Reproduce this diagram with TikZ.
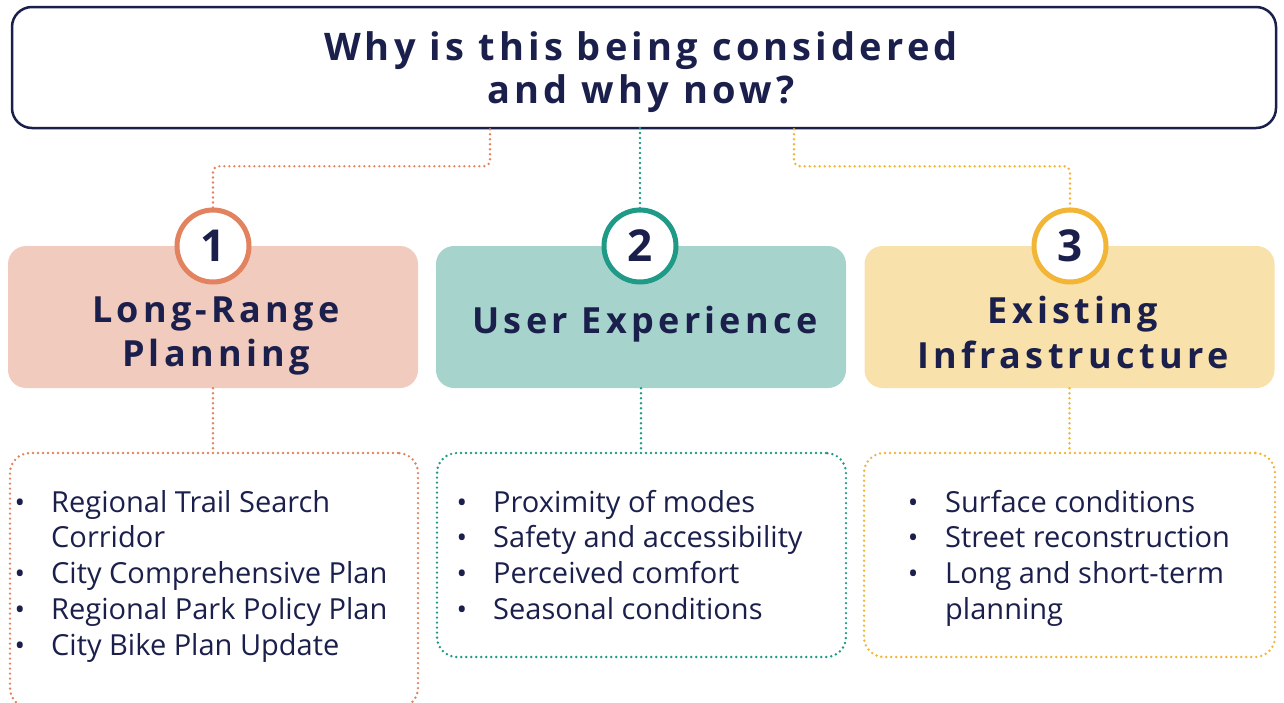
\documentclass[tikz,border=0pt]{standalone}
\usepackage{fontspec}
\setmainfont{Open Sans}
\newfontfamily\headfont[LetterSpace=12]{Open Sans}
\newfontfamily\titlefont[LetterSpace=11]{Open Sans}
\usetikzlibrary{calc}
\definecolor{navy}{HTML}{1B1F4B}
\definecolor{ora}{HTML}{E2825E}
\definecolor{orafill}{HTML}{F2CBBF}
\definecolor{tea}{HTML}{1F9A86}
\definecolor{teafill}{HTML}{A6D4CD}
\definecolor{yel}{HTML}{F2B535}
\definecolor{yelfill}{HTML}{F8E1AB}
\tikzset{
  dotline/.style={line width=2.7pt, dash pattern=on 0pt off 5pt, line cap=round},
  headbox/.style={rounded corners=18pt, minimum width=410pt, minimum height=142pt, inner sep=0pt},
  numcirc/.style={circle, fill=white, line width=5pt, minimum size=72pt, inner sep=0pt, text=navy, font=\bfseries\fontsize{44}{44}\selectfont},
  headtxt/.style={anchor=base, inner sep=0pt, text=navy, font=\headfont\bfseries\fontsize{36}{36}\selectfont},
  titletxt/.style={anchor=base, inner sep=0pt, text=navy, font=\titlefont\bfseries\fontsize{38}{38}\selectfont},
  listbox/.style={dotline, rounded corners=20pt, inner sep=0pt},
  itemtxt/.style={anchor=base west, inner sep=0pt, text=navy, font=\fontsize{29}{36}\selectfont},
  bul/.style={anchor=base, inner sep=0pt, text=navy, font=\fontsize{28}{28}\selectfont},
}
\begin{document}
\begin{tikzpicture}[x=1pt,y=-1pt]
\useasboundingbox (0,0) rectangle (1284,702);
\clip (0,0) rectangle (1284,702);
% top box
\node[draw=navy, line width=2.5pt, rounded corners=20pt, minimum width=1264pt, minimum height=121pt, inner sep=0pt] (q) at (644,67.5) {};
\node[titletxt] (t1) at (641,60) {Why is this being considered};
\node[titletxt] (t2) at (641,103) {and why now?};
% heading boxes
\node[headbox, fill=orafill] (b1) at (213,317) {};
\node[headbox, fill=teafill] (b2) at (641,317) {};
\node[headbox, fill=yelfill] (b3) at (1069.5,317) {};
\node[headtxt] (h1a) at (216,322) {Long-Range};
\node[headtxt] (h1b) at (216,366) {Planning};
\node[headtxt] (h2) at (645,333) {User Experience};
\node[headtxt] (h3a) at (1073,323) {Existing};
\node[headtxt] (h3b) at (1073,368) {Infrastructure};
% list boxes
\node[listbox, draw=ora, minimum width=408pt, minimum height=255pt] (l1) at (214,580.5) {};
\node[listbox, draw=tea, minimum width=409pt, minimum height=204pt] (l2) at (641.5,555) {};
\node[listbox, draw=yel, minimum width=411pt, minimum height=204pt] (l3) at (1069.5,555) {};
% connectors
\draw[dotline, draw=ora, rounded corners=6pt] ([xshift=-154pt]q.south) -- ++(0,37) -| (213,210);
\draw[dotline, draw=tea] (640,128) -- (640,210);
\draw[dotline, draw=yel, rounded corners=6pt] ([xshift=150pt]q.south) -- ++(0,37) -| (1070,210);
\draw[dotline, draw=ora] (b1.south) -- (b1.south |- l1.north);
\draw[dotline, draw=tea] (b2.south) -- (b2.south |- l2.north);
\draw[dotline, draw=yel] (b3.south) -- (b3.south |- l3.north);
% circles
\node[numcirc, draw=ora] (c1) at (213,246) {1};
\node[numcirc, draw=tea] (c2) at (640,246) {2};
\node[numcirc, draw=yel] (c3) at (1070,246) {3};
% lists
\foreach \y/\t [count=\i] in {512/Regional Trail Search, 547/Corridor, 583/City Comprehensive Plan, 619/Regional Park Policy Plan, 655/City Bike Plan Update}
  \node[itemtxt] (a\i) at (51,\y) {\t};
\foreach \y [count=\i] in {512,583,619,655}
  \node[bul] (ab\i) at (20,\y) {•};
\foreach \y/\t [count=\i] in {512/Proximity of modes, 547/Safety and accessibility, 583/Perceived comfort, 619/Seasonal conditions}
  \node[itemtxt] (u\i) at (493,\y) {\t};
\foreach \y [count=\i] in {512,547,583,619}
  \node[bul] (ub\i) at (462,\y) {•};
\foreach \y/\t [count=\i] in {512/Surface conditions, 547/Street reconstruction, 583/Long and short-term, 619/planning}
  \node[itemtxt] (e\i) at (945,\y) {\t};
\foreach \y [count=\i] in {512,547,583}
  \node[bul] (eb\i) at (913,\y) {•};
\end{tikzpicture}
\end{document}
